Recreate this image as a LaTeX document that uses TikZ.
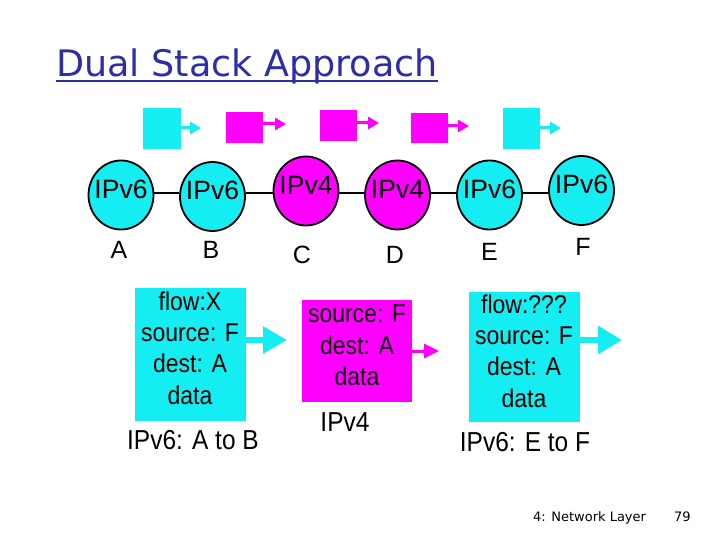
\documentclass[tikz,border=0pt]{standalone}
\usepackage{fontspec}
\setmainfont{Liberation Sans}
\newfontfamily\titlefont{DejaVu Sans}
\usetikzlibrary{arrows.meta,shapes.geometric}
\definecolor{cy}{RGB}{20,238,242}
\definecolor{mg}{RGB}{255,0,255}
\definecolor{tblue}{RGB}{45,45,170}
\newcommand{\tallt}[1]{\scalebox{1}[1.12]{#1}}
\tikzset{
  router/.style={ellipse, draw=black, line width=1.8pt, minimum width=65pt, minimum height=69pt, inner sep=0pt},
  rtext/.style={font=\fontsize{26.5}{26.5}\selectfont, inner sep=0pt},
  lbl/.style={font=\fontsize{25}{25}\selectfont, inner sep=0pt},
  captext/.style={font=\fontsize{24.5}{24.5}\selectfont, inner sep=0pt},
  pkt/.style={draw=none, inner sep=0pt},
  smallarrow/.style={line width=3pt, -{Triangle[length=11pt,width=12pt]}},
  boxtext/.style={align=center, font=\fontsize{23}{28}\selectfont, inner sep=0pt},
  link/.style={line width=1.5pt, black}
}
\begin{document}
\begin{tikzpicture}[x=1pt,y=-1pt]
\useasboundingbox (0,0) rectangle (720,540);
\fill[white] (0,0) rectangle (720,540);
% title
\node[anchor=base west, text=tblue, inner sep=0pt, font=\titlefont\fontsize{36.5}{36.5}\selectfont] (title) at (56,77) {Dual Stack Approach};
\draw[tblue, line width=2.5pt] (title.base west |- 0,81) -- (title.base east |- 0,81);
% top packets
\fill[cy] (143,108) rectangle (181,149);
\fill[mg] (226,112) rectangle (263,143);
\fill[mg] (320,110) rectangle (357,141);
\fill[mg] (411,113) rectangle (448,143);
\fill[cy] (503,108) rectangle (540,149);
\coordinate (a1s) at (181,128); \coordinate (a1e) at (201,128);
\coordinate (a2s) at (263,124); \coordinate (a2e) at (286,124);
\coordinate (a3s) at (357,123); \coordinate (a3e) at (379,123);
\coordinate (a4s) at (448,126); \coordinate (a4e) at (469,126);
\coordinate (a5s) at (540,128); \coordinate (a5e) at (561,128);
\draw[smallarrow, cy] (a1s) -- (a1e);
\draw[smallarrow, mg] (a2s) -- (a2e);
\draw[smallarrow, mg] (a3s) -- (a3e);
\draw[smallarrow, mg] (a4s) -- (a4e);
\draw[smallarrow, cy] (a5s) -- (a5e);
% routers
\node[router, fill=cy] (A) at (121,195) {};
\node[router, fill=cy] (B) at (212.5,196.5) {};
\node[router, fill=mg] (C) at (306,191) {};
\node[router, fill=mg] (D) at (397.5,195) {};
\node[router, fill=cy] (E) at (489.5,195) {};
\node[router, fill=cy] (F) at (581.5,190.5) {};
\node[rtext] (tA) at ([yshift=6pt]A.center) {IPv6};
\node[rtext] (tB) at ([yshift=6pt]B.center) {IPv6};
\node[rtext] (tC) at ([yshift=6pt]C.center) {IPv4};
\node[rtext] (tD) at ([yshift=6pt]D.center) {IPv4};
\node[rtext] (tE) at ([yshift=6pt]E.center) {IPv6};
\node[rtext] (tF) at ([yshift=6pt]F.center) {IPv6};
\draw[link] (A.east |- 0,193) -- (B.west |- 0,193);
\draw[link] (B.east |- 0,193) -- (C.west |- 0,193);
\draw[link] (C.east |- 0,193) -- (D.west |- 0,193);
\draw[link] (D.east |- 0,193) -- (E.west |- 0,193);
\draw[link] (E.east |- 0,193) -- (F.west |- 0,193);
\node[lbl] (la) at (119,250) {A};
\node[lbl] (lb) at (211,250) {B};
\node[lbl] (lc) at (302,255) {C};
\node[lbl] (ld) at (395,255) {D};
\node[lbl] (le) at (489.5,252) {E};
\node[lbl] (lf) at (583,247) {F};
% bottom packets
\node[pkt, fill=cy, minimum width=111pt, minimum height=133pt] (P1) at (190.5,354.5) {};
\node[boxtext] (t1) at (190,351) {\tallt{\begin{tabular}{@{}c@{}}flow:X\\source: F\\dest: A\\data\end{tabular}}};
\node[pkt, fill=mg, minimum width=110pt, minimum height=102pt] (P2) at (357,351) {};
\node[boxtext] (t2) at (357,348) {\tallt{\begin{tabular}{@{}c@{}}source: F\\dest: A\\data\end{tabular}}};
\node[pkt, fill=cy, minimum width=111pt, minimum height=130pt] (P3) at (524.5,357) {};
\node[boxtext] (t3) at (524,354) {\tallt{\begin{tabular}{@{}c@{}}flow:???\\source: F\\dest: A\\data\end{tabular}}};
\coordinate (b1e) at (287,340);
\coordinate (b2e) at (439,351);
\coordinate (b3e) at (622,340);
\draw[cy, line width=5.5pt, -{Triangle[length=24pt,width=26pt]}] (P1.east |- 0,340) -- (b1e);
\draw[mg, line width=3pt, -{Triangle[length=15pt,width=14pt]}] (P2.east |- 0,351) -- (b2e);
\draw[cy, line width=5.5pt, -{Triangle[length=24pt,width=27pt]}] (P3.east |- 0,340) -- (b3e);
\node[captext] (c1) at (193,440) {\tallt{IPv6: A to B}};
\node[captext] (c2) at (345,422) {\tallt{IPv4}};
\node[captext] (c3) at (525,442) {\tallt{IPv6: E to F}};
% footer
\node[anchor=base west, inner sep=0pt, font=\titlefont\fontsize{13}{13}\selectfont] (foot) at (533,521) {4: Network Layer};
\node[anchor=base west, inner sep=0pt, font=\titlefont\fontsize{13}{13}\selectfont] (pg) at (674,521) {79};
\end{tikzpicture}
\end{document}
